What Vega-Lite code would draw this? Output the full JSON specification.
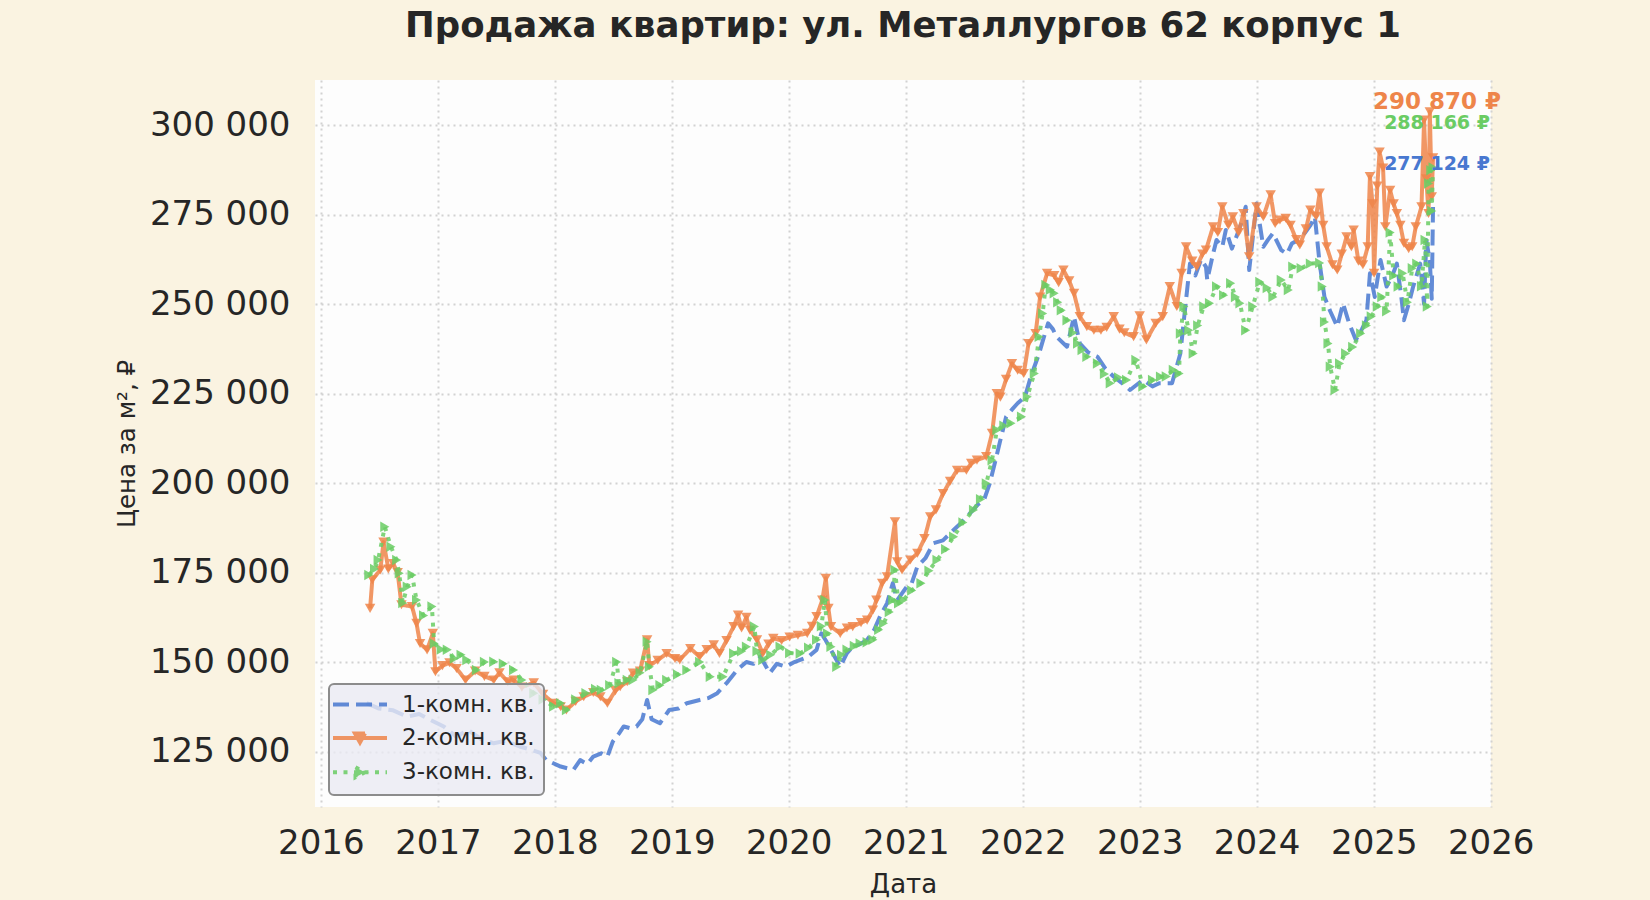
{
  "$schema": "https://vega.github.io/schema/vega-lite/v6.json",
  "autosize": {"type": "none"},
  "width": 1176,
  "height": 727,
  "padding": {"left": 315, "top": 80, "right": 159, "bottom": 93},
  "background": "#faf3e1",
  "title": {
    "text": "Продажа квартир: ул. Металлургов 62 корпус 1",
    "font": "DejaVu Sans",
    "fontSize": 35.5,
    "fontWeight": "bold",
    "color": "#262626",
    "anchor": "middle",
    "offset": 36
  },
  "datasets": {
    "prices": [
      {"date": "2016-05-23", "rooms": "1", "price": 138500},
      {"date": "2016-07-01", "rooms": "1", "price": 137000},
      {"date": "2016-08-14", "rooms": "1", "price": 136500},
      {"date": "2016-09-27", "rooms": "1", "price": 134700},
      {"date": "2016-11-03", "rooms": "1", "price": 135500},
      {"date": "2016-12-09", "rooms": "1", "price": 133800},
      {"date": "2017-01-19", "rooms": "1", "price": 132000},
      {"date": "2017-02-28", "rooms": "1", "price": 129100},
      {"date": "2017-04-05", "rooms": "1", "price": 131000},
      {"date": "2017-05-15", "rooms": "1", "price": 128500},
      {"date": "2017-06-24", "rooms": "1", "price": 127300},
      {"date": "2017-07-31", "rooms": "1", "price": 128000},
      {"date": "2017-09-13", "rooms": "1", "price": 126400},
      {"date": "2017-10-19", "rooms": "1", "price": 125500},
      {"date": "2017-11-17", "rooms": "1", "price": 124600},
      {"date": "2017-12-05", "rooms": "1", "price": 122600},
      {"date": "2018-01-19", "rooms": "1", "price": 120800},
      {"date": "2018-02-28", "rooms": "1", "price": 119900},
      {"date": "2018-03-21", "rooms": "1", "price": 122600},
      {"date": "2018-04-12", "rooms": "1", "price": 121500},
      {"date": "2018-05-01", "rooms": "1", "price": 123600},
      {"date": "2018-05-26", "rooms": "1", "price": 124500},
      {"date": "2018-06-14", "rooms": "1", "price": 123600},
      {"date": "2018-07-01", "rooms": "1", "price": 127800},
      {"date": "2018-07-20", "rooms": "1", "price": 130000},
      {"date": "2018-08-04", "rooms": "1", "price": 132000},
      {"date": "2018-08-25", "rooms": "1", "price": 131500},
      {"date": "2018-09-13", "rooms": "1", "price": 132000},
      {"date": "2018-10-01", "rooms": "1", "price": 134000},
      {"date": "2018-10-16", "rooms": "1", "price": 139400},
      {"date": "2018-10-30", "rooms": "1", "price": 134000},
      {"date": "2018-11-25", "rooms": "1", "price": 132900},
      {"date": "2018-12-24", "rooms": "1", "price": 136600},
      {"date": "2019-01-22", "rooms": "1", "price": 137000},
      {"date": "2019-02-17", "rooms": "1", "price": 138500},
      {"date": "2019-03-29", "rooms": "1", "price": 139400},
      {"date": "2019-04-27", "rooms": "1", "price": 140000},
      {"date": "2019-05-23", "rooms": "1", "price": 141300},
      {"date": "2019-06-21", "rooms": "1", "price": 144100},
      {"date": "2019-07-24", "rooms": "1", "price": 147800},
      {"date": "2019-08-22", "rooms": "1", "price": 150000},
      {"date": "2019-09-13", "rooms": "1", "price": 149500},
      {"date": "2019-10-05", "rooms": "1", "price": 151500},
      {"date": "2019-11-03", "rooms": "1", "price": 146900},
      {"date": "2019-11-25", "rooms": "1", "price": 149500},
      {"date": "2019-12-24", "rooms": "1", "price": 148700},
      {"date": "2020-01-19", "rooms": "1", "price": 150000},
      {"date": "2020-02-06", "rooms": "1", "price": 150600},
      {"date": "2020-03-03", "rooms": "1", "price": 151500},
      {"date": "2020-03-28", "rooms": "1", "price": 153400},
      {"date": "2020-04-12", "rooms": "1", "price": 158000},
      {"date": "2020-04-26", "rooms": "1", "price": 156000},
      {"date": "2020-05-12", "rooms": "1", "price": 153400},
      {"date": "2020-06-10", "rooms": "1", "price": 148700},
      {"date": "2020-07-01", "rooms": "1", "price": 152500},
      {"date": "2020-07-19", "rooms": "1", "price": 154300},
      {"date": "2020-08-11", "rooms": "1", "price": 155000},
      {"date": "2020-09-02", "rooms": "1", "price": 156200},
      {"date": "2020-09-24", "rooms": "1", "price": 159000},
      {"date": "2020-10-12", "rooms": "1", "price": 162700},
      {"date": "2020-11-03", "rooms": "1", "price": 166400},
      {"date": "2020-11-21", "rooms": "1", "price": 172000},
      {"date": "2020-12-05", "rooms": "1", "price": 167300},
      {"date": "2021-01-04", "rooms": "1", "price": 171100},
      {"date": "2021-01-19", "rooms": "1", "price": 172000},
      {"date": "2021-02-06", "rooms": "1", "price": 176700},
      {"date": "2021-03-03", "rooms": "1", "price": 179000},
      {"date": "2021-03-28", "rooms": "1", "price": 183200},
      {"date": "2021-04-27", "rooms": "1", "price": 184000},
      {"date": "2021-05-30", "rooms": "1", "price": 186900},
      {"date": "2021-06-24", "rooms": "1", "price": 189000},
      {"date": "2021-07-20", "rooms": "1", "price": 191500},
      {"date": "2021-08-14", "rooms": "1", "price": 194000},
      {"date": "2021-09-02", "rooms": "1", "price": 195300},
      {"date": "2021-09-20", "rooms": "1", "price": 199900},
      {"date": "2021-10-08", "rooms": "1", "price": 206400},
      {"date": "2021-10-23", "rooms": "1", "price": 212000},
      {"date": "2021-11-10", "rooms": "1", "price": 218500},
      {"date": "2021-11-28", "rooms": "1", "price": 220500},
      {"date": "2021-12-16", "rooms": "1", "price": 222300},
      {"date": "2022-01-08", "rooms": "1", "price": 224100},
      {"date": "2022-01-26", "rooms": "1", "price": 229700},
      {"date": "2022-02-21", "rooms": "1", "price": 236200},
      {"date": "2022-03-07", "rooms": "1", "price": 240500},
      {"date": "2022-03-21", "rooms": "1", "price": 244600},
      {"date": "2022-04-05", "rooms": "1", "price": 243000},
      {"date": "2022-04-16", "rooms": "1", "price": 240900},
      {"date": "2022-05-19", "rooms": "1", "price": 238100},
      {"date": "2022-06-10", "rooms": "1", "price": 246500},
      {"date": "2022-06-28", "rooms": "1", "price": 239000},
      {"date": "2022-07-24", "rooms": "1", "price": 236500},
      {"date": "2022-08-22", "rooms": "1", "price": 235300},
      {"date": "2022-09-16", "rooms": "1", "price": 232000},
      {"date": "2022-10-12", "rooms": "1", "price": 229700},
      {"date": "2022-11-06", "rooms": "1", "price": 228000},
      {"date": "2022-12-02", "rooms": "1", "price": 226000},
      {"date": "2023-01-11", "rooms": "1", "price": 228800},
      {"date": "2023-02-10", "rooms": "1", "price": 227000},
      {"date": "2023-03-03", "rooms": "1", "price": 227900},
      {"date": "2023-04-12", "rooms": "1", "price": 227900},
      {"date": "2023-05-08", "rooms": "1", "price": 236200},
      {"date": "2023-05-19", "rooms": "1", "price": 245500},
      {"date": "2023-06-07", "rooms": "1", "price": 261300},
      {"date": "2023-06-24", "rooms": "1", "price": 258000},
      {"date": "2023-07-12", "rooms": "1", "price": 262500},
      {"date": "2023-07-27", "rooms": "1", "price": 260400},
      {"date": "2023-07-31", "rooms": "1", "price": 256700},
      {"date": "2023-08-18", "rooms": "1", "price": 264000},
      {"date": "2023-08-29", "rooms": "1", "price": 267900},
      {"date": "2023-09-16", "rooms": "1", "price": 266000},
      {"date": "2023-09-27", "rooms": "1", "price": 270700},
      {"date": "2023-10-16", "rooms": "1", "price": 265500},
      {"date": "2023-10-30", "rooms": "1", "price": 268800},
      {"date": "2023-11-14", "rooms": "1", "price": 272500},
      {"date": "2023-11-28", "rooms": "1", "price": 277200},
      {"date": "2023-12-09", "rooms": "1", "price": 259500},
      {"date": "2024-01-01", "rooms": "1", "price": 278100},
      {"date": "2024-01-22", "rooms": "1", "price": 266000},
      {"date": "2024-02-06", "rooms": "1", "price": 268000},
      {"date": "2024-02-21", "rooms": "1", "price": 269800},
      {"date": "2024-03-18", "rooms": "1", "price": 265100},
      {"date": "2024-04-05", "rooms": "1", "price": 264000},
      {"date": "2024-04-20", "rooms": "1", "price": 266900},
      {"date": "2024-05-12", "rooms": "1", "price": 268000},
      {"date": "2024-05-30", "rooms": "1", "price": 269800},
      {"date": "2024-06-17", "rooms": "1", "price": 272000},
      {"date": "2024-07-01", "rooms": "1", "price": 274400},
      {"date": "2024-07-16", "rooms": "1", "price": 261300},
      {"date": "2024-07-31", "rooms": "1", "price": 252000},
      {"date": "2024-08-18", "rooms": "1", "price": 248000},
      {"date": "2024-09-09", "rooms": "1", "price": 243700},
      {"date": "2024-09-27", "rooms": "1", "price": 250200},
      {"date": "2024-10-16", "rooms": "1", "price": 244600},
      {"date": "2024-11-06", "rooms": "1", "price": 240000},
      {"date": "2024-11-25", "rooms": "1", "price": 243000},
      {"date": "2024-12-09", "rooms": "1", "price": 245500},
      {"date": "2024-12-20", "rooms": "1", "price": 258600},
      {"date": "2025-01-04", "rooms": "1", "price": 252000},
      {"date": "2025-01-22", "rooms": "1", "price": 262300},
      {"date": "2025-02-10", "rooms": "1", "price": 254900},
      {"date": "2025-02-28", "rooms": "1", "price": 258000},
      {"date": "2025-03-14", "rooms": "1", "price": 261300},
      {"date": "2025-03-28", "rooms": "1", "price": 252000},
      {"date": "2025-04-05", "rooms": "1", "price": 245500},
      {"date": "2025-04-20", "rooms": "1", "price": 250000},
      {"date": "2025-05-04", "rooms": "1", "price": 254900},
      {"date": "2025-05-26", "rooms": "1", "price": 261300},
      {"date": "2025-06-07", "rooms": "1", "price": 250000},
      {"date": "2025-06-14", "rooms": "1", "price": 267900},
      {"date": "2025-06-25", "rooms": "1", "price": 262000},
      {"date": "2025-07-01", "rooms": "1", "price": 251500},
      {"date": "2025-07-05", "rooms": "1", "price": 277124},

      {"date": "2016-06-03", "rooms": "2", "price": 165000},
      {"date": "2016-06-10", "rooms": "2", "price": 173000},
      {"date": "2016-07-05", "rooms": "2", "price": 175700},
      {"date": "2016-07-15", "rooms": "2", "price": 183500},
      {"date": "2016-07-30", "rooms": "2", "price": 176000},
      {"date": "2016-08-14", "rooms": "2", "price": 177500},
      {"date": "2016-08-28", "rooms": "2", "price": 175000},
      {"date": "2016-09-09", "rooms": "2", "price": 166000},
      {"date": "2016-10-12", "rooms": "2", "price": 165500},
      {"date": "2016-10-26", "rooms": "2", "price": 160800},
      {"date": "2016-11-06", "rooms": "2", "price": 155200},
      {"date": "2016-11-28", "rooms": "2", "price": 153400},
      {"date": "2016-12-16", "rooms": "2", "price": 158000},
      {"date": "2016-12-24", "rooms": "2", "price": 147300},
      {"date": "2017-01-15", "rooms": "2", "price": 149000},
      {"date": "2017-02-06", "rooms": "2", "price": 149800},
      {"date": "2017-02-28", "rooms": "2", "price": 148200},
      {"date": "2017-03-28", "rooms": "2", "price": 145000},
      {"date": "2017-04-27", "rooms": "2", "price": 147500},
      {"date": "2017-05-26", "rooms": "2", "price": 146000},
      {"date": "2017-06-24", "rooms": "2", "price": 145000},
      {"date": "2017-07-12", "rooms": "2", "price": 147000},
      {"date": "2017-08-07", "rooms": "2", "price": 144500},
      {"date": "2017-08-25", "rooms": "2", "price": 145000},
      {"date": "2017-09-20", "rooms": "2", "price": 143000},
      {"date": "2017-10-27", "rooms": "2", "price": 144200},
      {"date": "2017-11-25", "rooms": "2", "price": 141000},
      {"date": "2017-12-28", "rooms": "2", "price": 138500},
      {"date": "2018-01-19", "rooms": "2", "price": 137500},
      {"date": "2018-02-06", "rooms": "2", "price": 136600},
      {"date": "2018-03-07", "rooms": "2", "price": 139000},
      {"date": "2018-04-01", "rooms": "2", "price": 140300},
      {"date": "2018-05-01", "rooms": "2", "price": 141500},
      {"date": "2018-05-23", "rooms": "2", "price": 140300},
      {"date": "2018-06-14", "rooms": "2", "price": 138500},
      {"date": "2018-07-09", "rooms": "2", "price": 142000},
      {"date": "2018-07-24", "rooms": "2", "price": 143100},
      {"date": "2018-08-15", "rooms": "2", "price": 144500},
      {"date": "2018-09-02", "rooms": "2", "price": 146900},
      {"date": "2018-09-24", "rooms": "2", "price": 147500},
      {"date": "2018-10-16", "rooms": "2", "price": 156200},
      {"date": "2018-10-23", "rooms": "2", "price": 149000},
      {"date": "2018-11-18", "rooms": "2", "price": 150500},
      {"date": "2018-12-16", "rooms": "2", "price": 152400},
      {"date": "2019-01-11", "rooms": "2", "price": 151000},
      {"date": "2019-01-26", "rooms": "2", "price": 150600},
      {"date": "2019-02-28", "rooms": "2", "price": 153800},
      {"date": "2019-03-29", "rooms": "2", "price": 151500},
      {"date": "2019-04-20", "rooms": "2", "price": 153500},
      {"date": "2019-05-12", "rooms": "2", "price": 154800},
      {"date": "2019-05-30", "rooms": "2", "price": 152400},
      {"date": "2019-06-21", "rooms": "2", "price": 156000},
      {"date": "2019-07-13", "rooms": "2", "price": 159900},
      {"date": "2019-07-27", "rooms": "2", "price": 163100},
      {"date": "2019-08-07", "rooms": "2", "price": 159500},
      {"date": "2019-08-22", "rooms": "2", "price": 162500},
      {"date": "2019-09-02", "rooms": "2", "price": 158900},
      {"date": "2019-09-24", "rooms": "2", "price": 156200},
      {"date": "2019-10-12", "rooms": "2", "price": 152400},
      {"date": "2019-10-30", "rooms": "2", "price": 155000},
      {"date": "2019-11-14", "rooms": "2", "price": 156600},
      {"date": "2019-12-10", "rooms": "2", "price": 156000},
      {"date": "2020-01-04", "rooms": "2", "price": 157000},
      {"date": "2020-01-30", "rooms": "2", "price": 157500},
      {"date": "2020-02-28", "rooms": "2", "price": 158000},
      {"date": "2020-03-14", "rooms": "2", "price": 160000},
      {"date": "2020-03-28", "rooms": "2", "price": 162700},
      {"date": "2020-04-15", "rooms": "2", "price": 167300},
      {"date": "2020-04-26", "rooms": "2", "price": 173400},
      {"date": "2020-05-04", "rooms": "2", "price": 165000},
      {"date": "2020-05-12", "rooms": "2", "price": 159900},
      {"date": "2020-06-10", "rooms": "2", "price": 158000},
      {"date": "2020-07-01", "rooms": "2", "price": 159500},
      {"date": "2020-07-19", "rooms": "2", "price": 159900},
      {"date": "2020-08-14", "rooms": "2", "price": 161000},
      {"date": "2020-09-02", "rooms": "2", "price": 161700},
      {"date": "2020-09-20", "rooms": "2", "price": 164500},
      {"date": "2020-10-01", "rooms": "2", "price": 167300},
      {"date": "2020-10-19", "rooms": "2", "price": 172000},
      {"date": "2020-11-03", "rooms": "2", "price": 173800},
      {"date": "2020-11-28", "rooms": "2", "price": 189200},
      {"date": "2020-12-05", "rooms": "2", "price": 178000},
      {"date": "2020-12-20", "rooms": "2", "price": 175700},
      {"date": "2021-01-15", "rooms": "2", "price": 178500},
      {"date": "2021-02-06", "rooms": "2", "price": 180400},
      {"date": "2021-02-28", "rooms": "2", "price": 184500},
      {"date": "2021-03-18", "rooms": "2", "price": 190600},
      {"date": "2021-04-05", "rooms": "2", "price": 192500},
      {"date": "2021-04-27", "rooms": "2", "price": 197100},
      {"date": "2021-05-19", "rooms": "2", "price": 200500},
      {"date": "2021-06-10", "rooms": "2", "price": 203600},
      {"date": "2021-07-09", "rooms": "2", "price": 203600},
      {"date": "2021-07-24", "rooms": "2", "price": 205500},
      {"date": "2021-08-11", "rooms": "2", "price": 206400},
      {"date": "2021-09-09", "rooms": "2", "price": 207400},
      {"date": "2021-09-27", "rooms": "2", "price": 213900},
      {"date": "2021-10-12", "rooms": "2", "price": 225000},
      {"date": "2021-10-23", "rooms": "2", "price": 224000},
      {"date": "2021-11-10", "rooms": "2", "price": 229000},
      {"date": "2021-11-28", "rooms": "2", "price": 233400},
      {"date": "2021-12-16", "rooms": "2", "price": 231500},
      {"date": "2022-01-04", "rooms": "2", "price": 230600},
      {"date": "2022-01-19", "rooms": "2", "price": 239000},
      {"date": "2022-02-10", "rooms": "2", "price": 241800},
      {"date": "2022-02-24", "rooms": "2", "price": 252000},
      {"date": "2022-03-18", "rooms": "2", "price": 258600},
      {"date": "2022-04-09", "rooms": "2", "price": 258000},
      {"date": "2022-04-23", "rooms": "2", "price": 256000},
      {"date": "2022-05-08", "rooms": "2", "price": 259500},
      {"date": "2022-05-26", "rooms": "2", "price": 256500},
      {"date": "2022-06-10", "rooms": "2", "price": 253000},
      {"date": "2022-06-28", "rooms": "2", "price": 246500},
      {"date": "2022-07-20", "rooms": "2", "price": 243700},
      {"date": "2022-08-11", "rooms": "2", "price": 242700},
      {"date": "2022-09-02", "rooms": "2", "price": 242700},
      {"date": "2022-09-20", "rooms": "2", "price": 243500},
      {"date": "2022-10-12", "rooms": "2", "price": 246500},
      {"date": "2022-10-30", "rooms": "2", "price": 243000},
      {"date": "2022-11-14", "rooms": "2", "price": 242000},
      {"date": "2022-12-13", "rooms": "2", "price": 240900},
      {"date": "2023-01-01", "rooms": "2", "price": 246700},
      {"date": "2023-01-22", "rooms": "2", "price": 240000},
      {"date": "2023-02-20", "rooms": "2", "price": 244600},
      {"date": "2023-03-14", "rooms": "2", "price": 246500},
      {"date": "2023-04-05", "rooms": "2", "price": 254900},
      {"date": "2023-04-27", "rooms": "2", "price": 249300},
      {"date": "2023-05-12", "rooms": "2", "price": 258600},
      {"date": "2023-05-26", "rooms": "2", "price": 266000},
      {"date": "2023-06-14", "rooms": "2", "price": 262000},
      {"date": "2023-06-28", "rooms": "2", "price": 260400},
      {"date": "2023-07-16", "rooms": "2", "price": 264000},
      {"date": "2023-07-27", "rooms": "2", "price": 265100},
      {"date": "2023-08-18", "rooms": "2", "price": 271600},
      {"date": "2023-09-02", "rooms": "2", "price": 270000},
      {"date": "2023-09-16", "rooms": "2", "price": 277200},
      {"date": "2023-10-05", "rooms": "2", "price": 272000},
      {"date": "2023-10-19", "rooms": "2", "price": 274400},
      {"date": "2023-11-06", "rooms": "2", "price": 270000},
      {"date": "2023-11-21", "rooms": "2", "price": 275300},
      {"date": "2023-12-09", "rooms": "2", "price": 263200},
      {"date": "2024-01-01", "rooms": "2", "price": 277200},
      {"date": "2024-01-22", "rooms": "2", "price": 274400},
      {"date": "2024-02-14", "rooms": "2", "price": 280500},
      {"date": "2024-02-28", "rooms": "2", "price": 272500},
      {"date": "2024-03-14", "rooms": "2", "price": 273500},
      {"date": "2024-04-01", "rooms": "2", "price": 274000},
      {"date": "2024-04-16", "rooms": "2", "price": 272000},
      {"date": "2024-05-04", "rooms": "2", "price": 268000},
      {"date": "2024-05-15", "rooms": "2", "price": 266500},
      {"date": "2024-06-03", "rooms": "2", "price": 271000},
      {"date": "2024-06-17", "rooms": "2", "price": 276300},
      {"date": "2024-07-05", "rooms": "2", "price": 274500},
      {"date": "2024-07-16", "rooms": "2", "price": 281000},
      {"date": "2024-07-27", "rooms": "2", "price": 272000},
      {"date": "2024-08-07", "rooms": "2", "price": 266000},
      {"date": "2024-08-25", "rooms": "2", "price": 261000},
      {"date": "2024-09-09", "rooms": "2", "price": 259500},
      {"date": "2024-09-23", "rooms": "2", "price": 264000},
      {"date": "2024-10-08", "rooms": "2", "price": 268800},
      {"date": "2024-10-23", "rooms": "2", "price": 266000},
      {"date": "2024-10-30", "rooms": "2", "price": 270700},
      {"date": "2024-11-14", "rooms": "2", "price": 262000},
      {"date": "2024-11-28", "rooms": "2", "price": 261000},
      {"date": "2024-12-13", "rooms": "2", "price": 266000},
      {"date": "2024-12-20", "rooms": "2", "price": 285600},
      {"date": "2024-12-28", "rooms": "2", "price": 278000},
      {"date": "2025-01-02", "rooms": "2", "price": 258600},
      {"date": "2025-01-12", "rooms": "2", "price": 283000},
      {"date": "2025-01-19", "rooms": "2", "price": 292500},
      {"date": "2025-01-30", "rooms": "2", "price": 288000},
      {"date": "2025-02-06", "rooms": "2", "price": 271600},
      {"date": "2025-02-21", "rooms": "2", "price": 281800},
      {"date": "2025-03-04", "rooms": "2", "price": 278000},
      {"date": "2025-03-14", "rooms": "2", "price": 275300},
      {"date": "2025-03-25", "rooms": "2", "price": 272000},
      {"date": "2025-04-05", "rooms": "2", "price": 267000},
      {"date": "2025-04-20", "rooms": "2", "price": 265500},
      {"date": "2025-05-01", "rooms": "2", "price": 266000},
      {"date": "2025-05-12", "rooms": "2", "price": 271600},
      {"date": "2025-05-30", "rooms": "2", "price": 277200},
      {"date": "2025-06-07", "rooms": "2", "price": 301400},
      {"date": "2025-06-14", "rooms": "2", "price": 285000},
      {"date": "2025-06-21", "rooms": "2", "price": 275300},
      {"date": "2025-06-25", "rooms": "2", "price": 303700},
      {"date": "2025-07-01", "rooms": "2", "price": 280000},
      {"date": "2025-07-05", "rooms": "2", "price": 290870},

      {"date": "2016-05-30", "rooms": "3", "price": 174300},
      {"date": "2016-06-17", "rooms": "3", "price": 176000},
      {"date": "2016-06-28", "rooms": "3", "price": 178500},
      {"date": "2016-07-19", "rooms": "3", "price": 187800},
      {"date": "2016-08-07", "rooms": "3", "price": 182200},
      {"date": "2016-08-25", "rooms": "3", "price": 178500},
      {"date": "2016-09-02", "rooms": "3", "price": 174800},
      {"date": "2016-09-13", "rooms": "3", "price": 166500},
      {"date": "2016-09-27", "rooms": "3", "price": 171000},
      {"date": "2016-10-12", "rooms": "3", "price": 174300},
      {"date": "2016-10-26", "rooms": "3", "price": 167300},
      {"date": "2016-11-17", "rooms": "3", "price": 163000},
      {"date": "2016-12-13", "rooms": "3", "price": 165500},
      {"date": "2016-12-20", "rooms": "3", "price": 155200},
      {"date": "2017-01-11", "rooms": "3", "price": 153500},
      {"date": "2017-01-30", "rooms": "3", "price": 153400},
      {"date": "2017-02-21", "rooms": "3", "price": 151000},
      {"date": "2017-03-14", "rooms": "3", "price": 152000},
      {"date": "2017-04-01", "rooms": "3", "price": 150600},
      {"date": "2017-05-01", "rooms": "3", "price": 147800},
      {"date": "2017-05-26", "rooms": "3", "price": 150000},
      {"date": "2017-06-24", "rooms": "3", "price": 150100},
      {"date": "2017-07-24", "rooms": "3", "price": 149500},
      {"date": "2017-08-25", "rooms": "3", "price": 147800},
      {"date": "2017-09-20", "rooms": "3", "price": 145000},
      {"date": "2017-10-27", "rooms": "3", "price": 141300},
      {"date": "2017-11-25", "rooms": "3", "price": 139500},
      {"date": "2017-12-28", "rooms": "3", "price": 137600},
      {"date": "2018-01-19", "rooms": "3", "price": 138500},
      {"date": "2018-02-06", "rooms": "3", "price": 136600},
      {"date": "2018-03-07", "rooms": "3", "price": 139500},
      {"date": "2018-04-08", "rooms": "3", "price": 141300},
      {"date": "2018-05-08", "rooms": "3", "price": 142500},
      {"date": "2018-05-26", "rooms": "3", "price": 142200},
      {"date": "2018-06-21", "rooms": "3", "price": 143500},
      {"date": "2018-07-13", "rooms": "3", "price": 150000},
      {"date": "2018-07-20", "rooms": "3", "price": 144100},
      {"date": "2018-08-15", "rooms": "3", "price": 145000},
      {"date": "2018-09-02", "rooms": "3", "price": 145000},
      {"date": "2018-09-24", "rooms": "3", "price": 147000},
      {"date": "2018-10-16", "rooms": "3", "price": 155700},
      {"date": "2018-10-23", "rooms": "3", "price": 148700},
      {"date": "2018-11-03", "rooms": "3", "price": 142200},
      {"date": "2018-11-25", "rooms": "3", "price": 143500},
      {"date": "2018-12-16", "rooms": "3", "price": 145000},
      {"date": "2019-01-19", "rooms": "3", "price": 146500},
      {"date": "2019-02-17", "rooms": "3", "price": 147800},
      {"date": "2019-03-29", "rooms": "3", "price": 150000},
      {"date": "2019-05-01", "rooms": "3", "price": 145900},
      {"date": "2019-06-10", "rooms": "3", "price": 145900},
      {"date": "2019-07-13", "rooms": "3", "price": 152400},
      {"date": "2019-08-07", "rooms": "3", "price": 153000},
      {"date": "2019-08-22", "rooms": "3", "price": 154300},
      {"date": "2019-09-16", "rooms": "3", "price": 159900},
      {"date": "2019-09-24", "rooms": "3", "price": 153000},
      {"date": "2019-10-12", "rooms": "3", "price": 150600},
      {"date": "2019-11-06", "rooms": "3", "price": 152000},
      {"date": "2019-12-05", "rooms": "3", "price": 154300},
      {"date": "2020-01-04", "rooms": "3", "price": 152500},
      {"date": "2020-02-06", "rooms": "3", "price": 152400},
      {"date": "2020-03-03", "rooms": "3", "price": 154000},
      {"date": "2020-03-28", "rooms": "3", "price": 156200},
      {"date": "2020-04-12", "rooms": "3", "price": 160000},
      {"date": "2020-04-23", "rooms": "3", "price": 167300},
      {"date": "2020-05-01", "rooms": "3", "price": 158000},
      {"date": "2020-05-12", "rooms": "3", "price": 154300},
      {"date": "2020-05-30", "rooms": "3", "price": 148700},
      {"date": "2020-06-14", "rooms": "3", "price": 152000},
      {"date": "2020-07-01", "rooms": "3", "price": 153400},
      {"date": "2020-07-24", "rooms": "3", "price": 154500},
      {"date": "2020-08-11", "rooms": "3", "price": 155200},
      {"date": "2020-09-02", "rooms": "3", "price": 155500},
      {"date": "2020-09-20", "rooms": "3", "price": 156200},
      {"date": "2020-10-08", "rooms": "3", "price": 159000},
      {"date": "2020-10-23", "rooms": "3", "price": 160800},
      {"date": "2020-11-10", "rooms": "3", "price": 164000},
      {"date": "2020-11-21", "rooms": "3", "price": 167300},
      {"date": "2020-11-28", "rooms": "3", "price": 175700},
      {"date": "2020-12-09", "rooms": "3", "price": 166400},
      {"date": "2020-12-24", "rooms": "3", "price": 167300},
      {"date": "2021-01-19", "rooms": "3", "price": 170000},
      {"date": "2021-02-17", "rooms": "3", "price": 172000},
      {"date": "2021-03-14", "rooms": "3", "price": 175500},
      {"date": "2021-04-08", "rooms": "3", "price": 178500},
      {"date": "2021-05-05", "rooms": "3", "price": 181500},
      {"date": "2021-05-30", "rooms": "3", "price": 185000},
      {"date": "2021-06-28", "rooms": "3", "price": 189000},
      {"date": "2021-07-31", "rooms": "3", "price": 192500},
      {"date": "2021-08-22", "rooms": "3", "price": 195500},
      {"date": "2021-09-09", "rooms": "3", "price": 199900},
      {"date": "2021-09-27", "rooms": "3", "price": 206400},
      {"date": "2021-10-12", "rooms": "3", "price": 214800},
      {"date": "2021-11-03", "rooms": "3", "price": 216000},
      {"date": "2021-11-25", "rooms": "3", "price": 216700},
      {"date": "2021-12-28", "rooms": "3", "price": 218500},
      {"date": "2022-01-15", "rooms": "3", "price": 224100},
      {"date": "2022-02-06", "rooms": "3", "price": 230600},
      {"date": "2022-02-21", "rooms": "3", "price": 240900},
      {"date": "2022-03-04", "rooms": "3", "price": 247400},
      {"date": "2022-03-14", "rooms": "3", "price": 255300},
      {"date": "2022-03-28", "rooms": "3", "price": 254000},
      {"date": "2022-04-09", "rooms": "3", "price": 253000},
      {"date": "2022-04-20", "rooms": "3", "price": 250500},
      {"date": "2022-05-01", "rooms": "3", "price": 248300},
      {"date": "2022-05-19", "rooms": "3", "price": 245500},
      {"date": "2022-06-07", "rooms": "3", "price": 242000},
      {"date": "2022-06-21", "rooms": "3", "price": 239000},
      {"date": "2022-07-05", "rooms": "3", "price": 237200},
      {"date": "2022-07-20", "rooms": "3", "price": 235300},
      {"date": "2022-08-22", "rooms": "3", "price": 233400},
      {"date": "2022-09-13", "rooms": "3", "price": 230500},
      {"date": "2022-10-01", "rooms": "3", "price": 227900},
      {"date": "2022-10-27", "rooms": "3", "price": 229500},
      {"date": "2022-11-21", "rooms": "3", "price": 228800},
      {"date": "2022-12-20", "rooms": "3", "price": 234400},
      {"date": "2023-01-11", "rooms": "3", "price": 227000},
      {"date": "2023-02-10", "rooms": "3", "price": 228800},
      {"date": "2023-03-07", "rooms": "3", "price": 229700},
      {"date": "2023-03-25", "rooms": "3", "price": 229800},
      {"date": "2023-04-16", "rooms": "3", "price": 231600},
      {"date": "2023-05-04", "rooms": "3", "price": 230600},
      {"date": "2023-05-08", "rooms": "3", "price": 241800},
      {"date": "2023-05-19", "rooms": "3", "price": 249300},
      {"date": "2023-06-03", "rooms": "3", "price": 242700},
      {"date": "2023-06-17", "rooms": "3", "price": 236200},
      {"date": "2023-07-01", "rooms": "3", "price": 244000},
      {"date": "2023-07-20", "rooms": "3", "price": 249300},
      {"date": "2023-08-07", "rooms": "3", "price": 250200},
      {"date": "2023-08-29", "rooms": "3", "price": 254900},
      {"date": "2023-09-20", "rooms": "3", "price": 252500},
      {"date": "2023-10-12", "rooms": "3", "price": 255800},
      {"date": "2023-10-27", "rooms": "3", "price": 252000},
      {"date": "2023-11-10", "rooms": "3", "price": 250200},
      {"date": "2023-11-28", "rooms": "3", "price": 242700},
      {"date": "2023-12-20", "rooms": "3", "price": 249300},
      {"date": "2024-01-11", "rooms": "3", "price": 256200},
      {"date": "2024-02-03", "rooms": "3", "price": 254500},
      {"date": "2024-02-21", "rooms": "3", "price": 252000},
      {"date": "2024-03-18", "rooms": "3", "price": 256700},
      {"date": "2024-04-09", "rooms": "3", "price": 253900},
      {"date": "2024-04-23", "rooms": "3", "price": 260400},
      {"date": "2024-05-19", "rooms": "3", "price": 260000},
      {"date": "2024-06-17", "rooms": "3", "price": 261300},
      {"date": "2024-07-16", "rooms": "3", "price": 261500},
      {"date": "2024-07-24", "rooms": "3", "price": 254900},
      {"date": "2024-07-31", "rooms": "3", "price": 245000},
      {"date": "2024-08-11", "rooms": "3", "price": 239000},
      {"date": "2024-08-18", "rooms": "3", "price": 232500},
      {"date": "2024-09-02", "rooms": "3", "price": 226000},
      {"date": "2024-09-16", "rooms": "3", "price": 233400},
      {"date": "2024-10-05", "rooms": "3", "price": 236200},
      {"date": "2024-10-27", "rooms": "3", "price": 238000},
      {"date": "2024-11-21", "rooms": "3", "price": 241800},
      {"date": "2024-12-09", "rooms": "3", "price": 244000},
      {"date": "2024-12-24", "rooms": "3", "price": 246500},
      {"date": "2025-01-12", "rooms": "3", "price": 249300},
      {"date": "2025-01-26", "rooms": "3", "price": 252000},
      {"date": "2025-02-10", "rooms": "3", "price": 248000},
      {"date": "2025-02-21", "rooms": "3", "price": 270000},
      {"date": "2025-03-04", "rooms": "3", "price": 258000},
      {"date": "2025-03-18", "rooms": "3", "price": 254900},
      {"date": "2025-04-01", "rooms": "3", "price": 258600},
      {"date": "2025-04-16", "rooms": "3", "price": 250500},
      {"date": "2025-05-01", "rooms": "3", "price": 260000},
      {"date": "2025-05-15", "rooms": "3", "price": 261300},
      {"date": "2025-05-30", "rooms": "3", "price": 255000},
      {"date": "2025-06-10", "rooms": "3", "price": 267900},
      {"date": "2025-06-17", "rooms": "3", "price": 249300},
      {"date": "2025-06-21", "rooms": "3", "price": 283700},
      {"date": "2025-06-28", "rooms": "3", "price": 287400},
      {"date": "2025-07-01", "rooms": "3", "price": 276000},
      {"date": "2025-07-05", "rooms": "3", "price": 288166}
    ],
    "labels": [
      {"date": "2025-07-05", "rooms": "1", "price": 277124},
      {"date": "2025-07-05", "rooms": "2", "price": 290870},
      {"date": "2025-07-05", "rooms": "3", "price": 288166}
    ]
  },
  "data": {"name": "prices"},
  "encoding": {
    "x": {
      "field": "date",
      "type": "temporal",
      "title": "Дата",
      "scale": {
        "type": "utc",
        "domain": [
          {"year": 2015, "month": 12, "date": 14, "utc": true},
          {"year": 2026, "month": 1, "date": 2, "utc": true}
        ]
      },
      "axis": {
        "format": "%Y",
        "tickCount": {"interval": "year", "step": 1},
        "labelFontSize": 34,
        "labelPadding": 19,
        "labelFlush": false,
        "labelOverlap": false,
        "titleFontSize": 26,
        "titlePadding": 11
      }
    },
    "y": {
      "field": "price",
      "type": "quantitative",
      "title": "Цена за м², ₽",
      "scale": {"domain": [109500, 312600], "nice": false, "zero": false},
      "axis": {
        "values": [125000, 150000, 175000, 200000, 225000, 250000, 275000, 300000],
        "format": ",d",
        "labelFontSize": 34,
        "labelPadding": 25,
        "titleFontSize": 24.5,
        "titlePadding": 10
      }
    }
  },
  "layer": [
    {
      "transform": [{"filter": "datum.rooms == '1'"}],
      "mark": {"type": "line", "strokeWidth": 4, "opacity": 0.85, "strokeJoin": "round", "strokeCap": "butt"},
      "encoding": {
        "color": {
          "field": "rooms",
          "type": "nominal",
          "scale": {"domain": ["1", "2", "3"], "range": ["#4878d0", "#ee854a", "#6acc64"]},
          "legend": {
            "title": null,
            "orient": "none",
            "legendX": 14,
            "legendY": 604,
            "labelExpr": "datum.label + '-комн. кв.'",
            "encoding": {
              "symbols": {
                "shape": {"value": {"expr": "datum.value == '2' ? 'M-3.3,0L7.5,0M1.1,-0.9L3.1,-0.9L2.1,0.9Z' : datum.value == '3' ? 'M-3.3,0L7.5,0M1.2,-1L3.1,0L1.2,1Z' : 'M-3.3,0L7.5,0'"}},
                "fill": {"value": {"expr": "scale('color', datum.value)"}}
              }
            }
          }
        },
        "strokeDash": {
          "field": "rooms",
          "type": "nominal",
          "scale": {"domain": ["1", "2", "3"], "range": [[16, 7], [1, 0], [4, 6.5]]}
        }
      }
    },
    {
      "transform": [{"filter": "datum.rooms == '2'"}],
      "mark": {"type": "line", "strokeWidth": 4, "opacity": 0.85, "strokeJoin": "round"},
      "encoding": {
        "color": {"field": "rooms", "type": "nominal"},
        "strokeDash": {"field": "rooms", "type": "nominal"}
      }
    },
    {
      "transform": [{"filter": "datum.rooms == '2'"}],
      "mark": {"type": "point", "shape": "triangle-down", "filled": true, "size": 110, "opacity": 0.85, "color": "#ee854a"}
    },
    {
      "transform": [{"filter": "datum.rooms == '3'"}],
      "mark": {"type": "line", "strokeWidth": 4, "opacity": 0.85, "strokeJoin": "round", "strokeCap": "butt"},
      "encoding": {
        "color": {"field": "rooms", "type": "nominal"},
        "strokeDash": {"field": "rooms", "type": "nominal"}
      }
    },
    {
      "transform": [{"filter": "datum.rooms == '3'"}],
      "mark": {"type": "point", "shape": "triangle-right", "filled": true, "size": 110, "opacity": 0.85, "color": "#6acc64"}
    },
    {
      "data": {"name": "labels"},
      "transform": [{"filter": "datum.rooms == '2'"}],
      "mark": {"type": "text", "font": "DejaVu Sans", "fontSize": 23, "fontWeight": "bold", "color": "#ee854a", "align": "center", "baseline": "middle", "dx": 4, "dy": -56},
      "encoding": {"text": {"field": "price", "type": "quantitative", "format": "$,d"}}
    },
    {
      "data": {"name": "labels"},
      "transform": [{"filter": "datum.rooms == '3'"}],
      "mark": {"type": "text", "font": "DejaVu Sans", "fontSize": 19, "fontWeight": "bold", "color": "#6acc64", "align": "center", "baseline": "middle", "dx": 4, "dy": -44},
      "encoding": {"text": {"field": "price", "type": "quantitative", "format": "$,d"}}
    },
    {
      "data": {"name": "labels"},
      "transform": [{"filter": "datum.rooms == '1'"}],
      "mark": {"type": "text", "font": "DejaVu Sans", "fontSize": 19, "fontWeight": "bold", "color": "#4878d0", "align": "center", "baseline": "middle", "dx": 4, "dy": -43},
      "encoding": {"text": {"field": "price", "type": "quantitative", "format": "$,d"}}
    }
  ],
  "config": {
    "locale": {
      "number": {"decimal": ",", "thousands": " ", "grouping": [3], "currency": ["", " ₽"]}
    },
    "font": "DejaVu Sans",
    "view": {"fill": "#fdfdfd", "stroke": null},
    "axis": {
      "labelFont": "DejaVu Sans",
      "labelColor": "#262626",
      "titleFont": "DejaVu Sans",
      "titleFontWeight": "normal",
      "titleColor": "#262626",
      "domain": false,
      "ticks": false,
      "grid": true,
      "gridColor": "#d2d2d2",
      "gridDash": [2, 4],
      "gridWidth": 2
    },
    "legend": {
      "labelFont": "DejaVu Sans",
      "labelFontSize": 23,
      "labelColor": "#262626",
      "labelOffset": 41,
      "symbolSize": 100,
      "symbolStrokeWidth": 4,
      "symbolOpacity": 0.85,
      "rowPadding": 8.4,
      "padding": 9,
      "fillColor": "rgba(234,234,242,0.8)",
      "strokeColor": "#8c8c8c",
      "strokeWidth": 2,
      "cornerRadius": 5
    }
  }
}
